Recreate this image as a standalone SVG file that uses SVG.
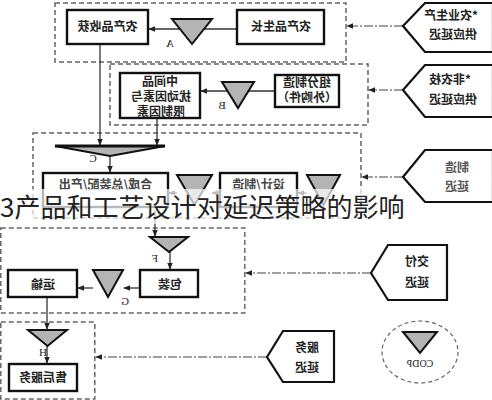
<svg xmlns="http://www.w3.org/2000/svg" width="492" height="400" viewBox="0 0 492 400">
<style>
.bx{fill:#fff;stroke:#111;stroke-width:2.4}
.pg{fill:#fff;stroke:#111;stroke-width:2.2;stroke-linejoin:miter}
.tri{fill:#b4b4b4;stroke:#111;stroke-width:2}
.dz{fill:none;stroke:#666;stroke-width:1.5;stroke-dasharray:5,3}
.t{font-family:"Noto Sans CJK SC","Noto Sans",sans-serif;font-size:12px;font-weight:bold;fill:#222;text-anchor:middle}
.lb{font-family:"Liberation Serif",serif;font-size:11px;fill:#222;text-anchor:middle}
.ln{fill:none;stroke:#333;stroke-width:1.3}
.dl{fill:none;stroke:#444;stroke-width:1.2;stroke-dasharray:9,2,2,2}
</style>
<defs>
<marker id="ah" viewBox="0 0 10 10" refX="9" refY="5" markerWidth="7" markerHeight="7" orient="auto" markerUnits="userSpaceOnUse">
<path d="M0,1 L10,5 L0,9 Z" fill="#222"/>
</marker>
</defs>
<rect width="492" height="400" fill="#fff"/>

<g id="zones">
<rect class="dz" x="55" y="3" width="291" height="59"/>
<rect class="dz" x="110" y="64" width="258" height="61"/>
<rect class="dz" x="33" y="133" width="328" height="85"/>
<rect class="dz" x="0.8" y="228" width="244" height="85"/>
<rect class="dz" x="0.8" y="322" width="94" height="77"/>
</g>

<g id="connectors">
<line class="ln" x1="237" y1="29" x2="149" y2="29" marker-end="url(#ah)"/>
<line class="ln" x1="275" y1="91" x2="201" y2="91" marker-end="url(#ah)"/>
<line class="ln" x1="100" y1="44" x2="100" y2="145" marker-end="url(#ah)"/>
<line class="ln" x1="157" y1="118" x2="157" y2="145" marker-end="url(#ah)"/>
<line class="ln" x1="110" y1="156" x2="110" y2="172" marker-end="url(#ah)"/>
<line class="ln" x1="177" y1="193" x2="169" y2="193" marker-end="url(#ah)"/>
<line class="ln" x1="220" y1="193" x2="212" y2="193" marker-end="url(#ah)"/>
<line class="ln" x1="307" y1="193" x2="298" y2="193" marker-end="url(#ah)"/>
<line class="ln" x1="155" y1="210" x2="155" y2="236" marker-end="url(#ah)"/>
<line class="ln" x1="170" y1="252" x2="170" y2="269" marker-end="url(#ah)"/>
<line class="ln" x1="140" y1="288" x2="124" y2="288" marker-end="url(#ah)"/>
<line class="ln" x1="93" y1="288" x2="78" y2="288" marker-end="url(#ah)"/>
<line class="ln" x1="47" y1="297" x2="47" y2="329" marker-end="url(#ah)"/>
<line class="ln" x1="47" y1="346" x2="47" y2="363" marker-end="url(#ah)"/>
<line class="dl" x1="403" y1="26" x2="347" y2="26" marker-end="url(#ah)"/>
<line class="dl" x1="403" y1="90" x2="369" y2="90" marker-end="url(#ah)"/>
<line class="dl" x1="403" y1="177" x2="362" y2="177" marker-end="url(#ah)"/>
<line class="dl" x1="371" y1="273" x2="246" y2="273" marker-end="url(#ah)"/>
<line class="dl" x1="267" y1="357" x2="96" y2="357" marker-end="url(#ah)"/>
</g>

<g id="n-harvest"><rect class="bx" x="67" y="10" width="81" height="34"/><text class="t" transform="translate(107.5,31) scale(-1,1)">农产品收获</text></g>
<g id="n-grow"><rect class="bx" x="237" y="10" width="87" height="34"/><text class="t" transform="translate(281,31) scale(-1,1)">农产品生长</text></g>
<g id="n-A"><polygon class="tri" points="172,19 212,19 192,44"/><text class="lb" transform="translate(170,47) scale(-1,1)">A</text></g>
<g id="n-agri"><polygon class="pg" points="403,26 425,3 493,3 493,52 425,52"/><text class="t" transform="translate(451,20) scale(-1,1)">*农业生产</text><text class="t" transform="translate(453,39) scale(-1,1)">供应延迟</text></g>

<g id="n-mid"><rect class="bx" x="120" y="73" width="80" height="45"/><text class="t" transform="translate(160,86) scale(-1,1)">中间品</text><text class="t" transform="translate(161,101) scale(-1,1)">扰动因素与</text><text class="t" transform="translate(161,116) scale(-1,1)">限制因素</text></g>
<g id="n-B"><polygon class="tri" points="222,82 254,82 238,108"/><text class="lb" transform="translate(222,109) scale(-1,1)">B</text></g>
<g id="n-comp"><rect class="bx" x="275" y="75" width="64" height="32"/><text class="t" transform="translate(307,87) scale(-1,1)">组分制造</text><text class="t" transform="translate(307,102) scale(-1,1)">（外购件）</text></g>
<g id="n-nonagri"><polygon class="pg" points="403,90 425,65 493,65 493,117 425,117"/><text class="t" transform="translate(450,84) scale(-1,1)">*非农枝</text><text class="t" transform="translate(453,104) scale(-1,1)">供应延迟</text></g>

<g id="n-C"><polygon class="tri" points="55,146 165,146 110,156" stroke-width="1.2"/><line x1="55" y1="146" x2="165" y2="146" stroke="#111" stroke-width="3"/><text class="lb" transform="translate(93,162) scale(-1,1)">C</text></g>
<g id="n-assy"><rect class="bx" x="43" y="173" width="125" height="34"/><text class="t" fill="#444" style="fill:#444" transform="translate(105.5,189) scale(-1,1)">合成/总装配/产出</text></g>
<g id="n-T1"><polygon class="tri" points="177,175 212,175 194.5,205"/></g>
<g id="n-design"><rect class="bx" x="220" y="173" width="77" height="34"/><text class="t" style="fill:#444" transform="translate(258.5,189) scale(-1,1)">设计/制造</text></g>
<g id="n-T2"><polygon class="tri" points="307,175 340,175 323.5,205"/></g>
<g id="n-mfg"><polygon class="pg" points="403,177 425,150 493,150 493,202 425,202"/><text class="t" style="fill:#555" transform="translate(457,172) scale(-1,1)">制造</text><text class="t" style="fill:#555" transform="translate(457,191) scale(-1,1)">延迟</text></g>

<g id="n-F"><polygon class="tri" points="150,237 188,237 169,252"/><text class="lb" transform="translate(155,262) scale(-1,1)">F</text></g>
<g id="n-pack"><rect class="bx" x="140" y="270" width="58" height="27"/><text class="t" transform="translate(170,289) scale(-1,1)">包装</text></g>
<g id="n-G"><polygon class="tri" points="93,270 123,270 108,297"/><text class="lb" transform="translate(125,305) scale(-1,1)">G</text></g>
<g id="n-trans"><rect class="bx" x="8" y="270" width="69" height="27"/><text class="t" transform="translate(43,289) scale(-1,1)">运输</text></g>
<g id="n-H"><polygon class="tri" points="28,330 67,330 47.5,346"/><text class="lb" transform="translate(43,356) scale(-1,1)">H</text></g>
<g id="n-after"><rect class="bx" x="9" y="364" width="68" height="27"/><text class="t" transform="translate(43,382) scale(-1,1)">售后服务</text></g>
<g id="n-deliv"><polygon class="pg" points="371,273 388,245 447,245 447,300 388,300"/><text class="t" transform="translate(417,266) scale(-1,1)">交付</text><text class="t" transform="translate(417,287) scale(-1,1)">延迟</text></g>
<g id="n-serv"><polygon class="pg" points="267,357 283,331 334,331 334,382 283,382"/><text class="t" transform="translate(307,352) scale(-1,1)">服务</text><text class="t" transform="translate(307,372) scale(-1,1)">延迟</text></g>
<g id="n-codp"><ellipse cx="420" cy="352" rx="38" ry="31" fill="none" stroke="#666" stroke-width="1.2" stroke-dasharray="4,3"/><polygon class="tri" points="403,332 437,332 420,353"/><text class="lb" style="font-size:10px" transform="translate(420,367) scale(-1,1)">CODP</text></g>

<rect x="0" y="189" width="412" height="35" fill="#fff" opacity="0.7"/>
<text x="0" y="217" style="font-family:'Noto Sans CJK SC','Noto Sans',sans-serif;font-size:26px;fill:#222">3产品和工艺设计对延迟策略的影响</text>
</svg>
